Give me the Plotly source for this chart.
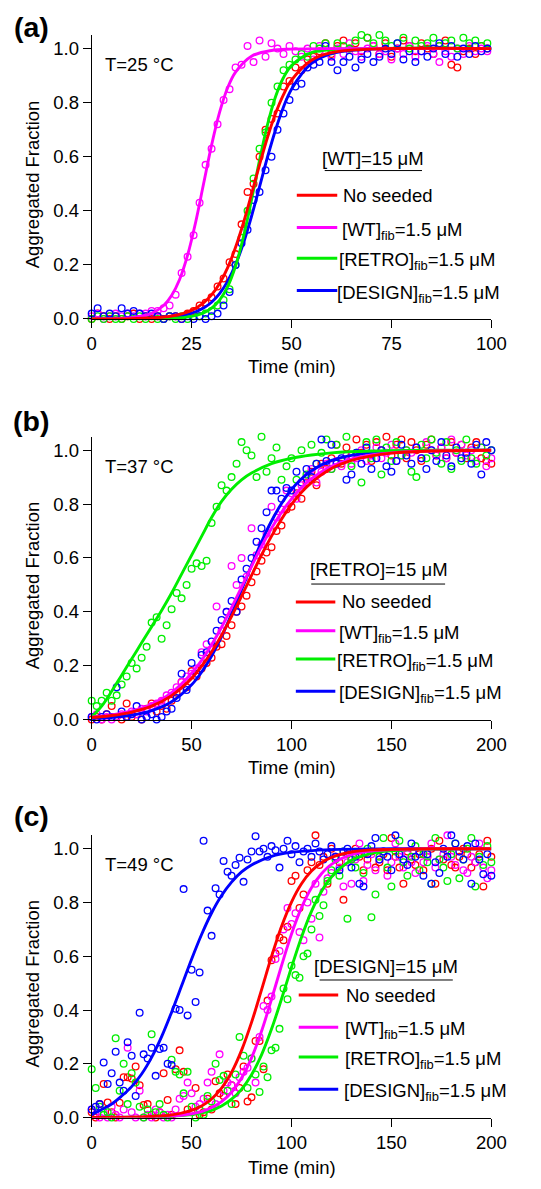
import plotly.graph_objects as go

# ---------------- data ----------------
# Panel (a): T = 25 C, [WT] = 15 uM, time 0-100 min
time_a = [0, 1.5, 3, 4.5, 6, 7.5, 9, 10.5, 12, 13.5, 15, 16.5, 18, 19.5, 21, 22.5, 24, 25.5,
          27, 28.5, 30, 31.5, 33, 34.5, 36, 37.5, 39, 40.5, 42, 43.5, 45, 46.5, 48, 49.5, 51,
          52.5, 54, 55.5, 57, 58.5, 60, 61.5, 63, 64.5, 66, 67.5, 69, 70.5, 72, 73.5, 75, 76.5,
          78, 79.5, 81, 82.5, 84, 85.5, 87, 88.5, 90, 91.5, 93, 94.5, 96, 97.5, 99]
a_red = [0.00, 0.02, 0.01, 0.00, 0.01, 0.00, 0.01, 0.02, 0.00, 0.01, 0.00, 0.01, 0.00, 0.01,
         0.01, 0.00, 0.02, 0.03, 0.05, 0.06, 0.08, 0.12, 0.15, 0.21, 0.24, 0.35, 0.47, 0.50,
         0.60, 0.70, 0.74, 0.76, 0.86, 0.88, 0.93, 0.92, 0.96, 0.97, 0.99, 1.02, 0.98, 1.01,
         1.03, 1.00, 1.02, 0.99, 1.04, 1.01, 0.98, 1.02, 0.97, 1.00, 1.03, 1.01, 0.99, 1.02,
         1.00, 0.98, 1.01, 1.03, 0.94, 0.93, 0.99, 1.00, 0.98, 1.01, 1.00]
a_mag = [0.01, 0.02, 0.00, 0.01, 0.02, 0.01, 0.02, 0.01, 0.02, 0.02, 0.03, 0.03, 0.04, 0.05,
         0.09, 0.17, 0.23, 0.31, 0.43, 0.57, 0.63, 0.72, 0.81, 0.85, 0.93, 0.94, 1.01, 0.95,
         1.03, 0.97, 1.02, 1.00, 0.98, 1.01, 0.99, 0.97, 1.00, 0.96, 1.01, 0.99, 0.97, 1.00,
         0.98, 1.02, 0.99, 0.97, 1.00, 1.01, 0.98, 0.99, 0.96, 1.00, 0.98, 1.01, 0.97, 0.99,
         1.01, 0.98, 0.95, 0.99, 0.97, 1.00, 0.98, 1.01, 0.99, 1.00, 0.99]
a_grn = [0.00, 0.01, 0.00, 0.01, 0.00, 0.00, 0.01, 0.00, 0.01, 0.00, 0.01, 0.00, 0.00, 0.01,
         0.00, 0.01, 0.00, 0.01, 0.01, 0.02, 0.03, 0.05, 0.07, 0.11, 0.20, 0.30, 0.40, 0.52,
         0.63, 0.69, 0.80, 0.86, 0.92, 0.94, 0.96, 0.98, 0.97, 1.01, 1.00, 1.02, 0.99, 1.02,
         1.01, 1.00, 1.03, 1.05, 1.04, 1.02, 1.05, 1.03, 1.01, 1.02, 1.04, 1.00, 1.03, 1.01,
         1.02, 1.04, 1.01, 1.02, 1.03, 1.00, 1.04, 1.02, 1.03, 1.01, 1.02]
a_blu = [0.02, 0.04, 0.01, 0.02, 0.01, 0.04, 0.02, 0.03, 0.02, 0.01, 0.02, 0.01, 0.00, 0.01,
         0.01, 0.00, 0.01, 0.00, 0.01, 0.00, 0.01, 0.02, 0.05, 0.10, 0.20, 0.28, 0.33, 0.44,
         0.47, 0.55, 0.60, 0.70, 0.76, 0.81, 0.86, 0.87, 0.93, 0.94, 0.95, 1.01, 0.95, 0.92,
         0.95, 0.97, 0.93, 0.96, 0.98, 0.95, 0.97, 1.00, 0.98, 1.02, 0.96, 0.99, 0.95, 0.99,
         0.97, 1.00, 1.02, 0.98, 1.01, 0.97, 1.00, 0.98, 1.01, 0.99, 1.00]
# fitted curves, panel (a)
fit_a_red_t = [0, 10, 20, 25, 28, 30, 32, 34, 36, 38, 40, 42, 44, 46, 48, 50, 55, 60, 70, 100]
fit_a_red = [0.0, 0.001, 0.011, 0.032, 0.060, 0.089, 0.131, 0.189, 0.265, 0.357, 0.462, 0.570,
             0.672, 0.760, 0.830, 0.883, 0.957, 0.985, 0.998, 1.0]
fit_a_mag_t = [0, 10, 15, 18, 20, 22, 24, 26, 28, 30, 32, 34, 36, 40, 45, 50, 100]
fit_a_mag = [0.0, 0.005, 0.021, 0.050, 0.087, 0.146, 0.236, 0.357, 0.5, 0.643, 0.764, 0.854,
             0.913, 0.972, 0.993, 0.998, 1.0]
fit_a_grn_t = [0, 20, 25, 28, 30, 32, 34, 36, 38, 40, 42, 44, 46, 48, 50, 55, 60, 100]
fit_a_grn = [0.0, 0.002, 0.0095, 0.0226, 0.040, 0.070, 0.119, 0.196, 0.305, 0.441, 0.587, 0.719,
             0.822, 0.893, 0.937, 0.985, 0.996, 1.0]
fit_a_blu_t = [0, 10, 20, 25, 28, 30, 32, 34, 36, 38, 40, 42, 44, 46, 48, 50, 55, 60, 70, 100]
fit_a_blu = [0.0, 0.001, 0.007, 0.0215, 0.041, 0.062, 0.094, 0.139, 0.201, 0.282, 0.380, 0.489,
             0.599, 0.699, 0.784, 0.850, 0.945, 0.981, 0.998, 1.0]

# Panel (b): T = 37 C, [RETRO] = 15 uM, time 0-200 min
time_b = [0, 2.5, 5, 7.5, 10, 12.5, 15, 17.5, 20, 22.5, 25, 27.5, 30, 32.5, 35, 37.5, 40, 42.5,
          45, 47.5, 50, 52.5, 55, 57.5, 60, 62.5, 65, 67.5, 70, 72.5, 75, 77.5, 80, 82.5, 85,
          87.5, 90, 92.5, 95, 97.5, 100, 102.5, 105, 107.5, 110, 112.5, 115, 117.5, 120, 122.5,
          125, 127.5, 130, 132.5, 135, 137.5, 140, 142.5, 145, 147.5, 150, 152.5, 155, 157.5,
          160, 162.5, 165, 167.5, 170, 172.5, 175, 177.5, 180, 182.5, 185, 187.5, 190, 192.5,
          195, 197.5, 200]
b_red = [0.0, 0.01, 0.0, 0.02, 0.05, 0.01, 0.0, 0.06, 0.01, 0.02,
         0.0, 0.04, 0.06, 0.03, 0.05, 0.04, 0.07, 0.10, 0.14, 0.12,
         0.18, 0.16, 0.19, 0.21, 0.23, 0.27, 0.28, 0.31, 0.35, 0.40,
         0.42, 0.46, 0.51, 0.55, 0.59, 0.62, 0.64, 0.70, 0.72, 0.78,
         0.79, 0.84, 0.82, 0.88, 0.92, 0.87, 0.95, 0.93, 0.97, 1.02,
         0.95, 1.01, 0.98, 1.04, 0.99, 1.02, 0.96, 1.03, 1.0, 1.05,
         0.98, 1.02, 1.04, 0.97, 1.03, 1.0, 0.96, 1.02, 1.04, 0.98,
         1.01, 0.97, 1.03, 0.99, 1.02, 0.97, 1.01, 1.03, 0.97, 0.96, 0.95]
b_mag = [0.01, 0.02, 0.0, 0.01, 0.0, 0.01, 0.02, 0.01, 0.03, 0.02,
         0.04, 0.03, 0.05, 0.06, 0.07, 0.09, 0.10, 0.12, 0.14, 0.16,
         0.17, 0.19, 0.25, 0.28, 0.26, 0.42, 0.33, 0.40, 0.57, 0.50,
         0.60, 0.53, 0.71, 0.61, 0.65, 0.69, 0.79, 0.75, 0.78, 0.85,
         0.84, 0.82, 0.87, 0.90, 0.93, 0.88, 0.92, 0.95, 0.93, 0.96,
         0.94, 0.98, 0.95, 0.97, 1.0, 0.96, 0.98, 1.01, 0.97, 0.99,
         1.02, 0.96, 0.98, 1.0, 0.99, 1.01, 0.97, 1.03, 1.0, 0.98,
         1.01, 0.97, 1.04, 0.99, 1.02, 0.98, 1.0, 0.96, 1.01, 0.94, 0.97]
b_grn = [0.07, 0.05, 0.07, 0.10, 0.07, 0.09, 0.13, 0.16, 0.21, 0.19,
         0.23, 0.27, 0.36, 0.38, 0.30, 0.35, 0.41, 0.47, 0.45, 0.50,
         0.56, 0.58, 0.57, 0.59, 0.73, 0.79, 0.87, 0.85, 0.90, 0.95,
         1.03, 1.00, 0.98, 0.90, 1.05, 0.92, 0.97, 1.01, 0.89, 0.94,
         0.97, 0.89, 1.0, 0.91, 1.02, 0.95, 0.99, 1.04, 0.93, 1.02,
         0.96, 1.05, 0.94, 0.99, 0.88, 1.03, 0.97, 1.04, 0.91, 1.01,
         0.96, 1.03, 0.98, 1.0, 0.92, 0.90, 1.02, 0.97, 1.04, 0.99,
         0.95, 1.03, 0.93, 1.0, 0.96, 1.04, 0.97, 0.95, 1.01, 0.98, 1.0]
b_blu = [0.01, 0.0, 0.01, 0.02, 0.01, 0.12, 0.03, 0.01, 0.02, 0.05,
         0.0, 0.01, 0.02, 0.0, 0.01, 0.03, 0.04, 0.08, 0.17, 0.11,
         0.21, 0.17, 0.24, 0.25, 0.29, 0.33, 0.37, 0.40, 0.44, 0.40,
         0.52, 0.56, 0.60, 0.66, 0.71, 0.77, 0.85, 0.85, 0.82, 0.86,
         0.85, 0.92, 0.88, 0.93, 0.90, 0.95, 1.04, 0.96, 1.02, 0.95,
         0.97, 0.89, 0.91, 0.99, 0.95, 1.01, 0.93, 0.97, 1.0, 0.94,
         0.92, 0.96, 1.02, 0.98, 0.95, 1.01, 0.97, 0.93, 1.0, 0.96,
         1.03, 0.98, 0.94, 1.01, 0.97, 0.99, 0.95, 1.02, 0.91, 1.03, 1.0]
fit_b_t = [0, 10, 20, 30, 40, 50, 55, 60, 65, 70, 75, 80, 85, 90, 95, 100, 105, 110, 120, 130,
           140, 150, 170, 200]
fit_b_red = [0.008, 0.015, 0.028, 0.050, 0.089, 0.153, 0.198, 0.251, 0.313, 0.383, 0.458, 0.535,
             0.611, 0.681, 0.744, 0.799, 0.844, 0.880, 0.932, 0.962, 0.979, 0.989, 0.997, 1.0]
fit_b_mag = [0.009, 0.017, 0.032, 0.057, 0.100, 0.172, 0.220, 0.278, 0.343, 0.416, 0.492, 0.569,
             0.643, 0.710, 0.769, 0.819, 0.861, 0.894, 0.940, 0.967, 0.982, 0.990, 0.997, 1.0]
fit_b_blu = [0.004, 0.008, 0.016, 0.033, 0.066, 0.129, 0.176, 0.236, 0.308, 0.392, 0.482, 0.573,
             0.660, 0.737, 0.802, 0.854, 0.894, 0.924, 0.962, 0.981, 0.991, 0.996, 0.999, 1.0]
fit_b_grn_t = [0, 5, 10, 15, 20, 25, 30, 35, 40, 45, 50, 55, 60, 65, 70, 75, 80, 90, 100, 110,
               120, 140, 170, 200]
fit_b_grn = [0.01, 0.05, 0.105, 0.165, 0.225, 0.285, 0.345, 0.405, 0.47, 0.54, 0.61, 0.68, 0.75,
             0.81, 0.855, 0.89, 0.915, 0.95, 0.97, 0.982, 0.99, 0.997, 1.0, 1.0]

# Panel (c): T = 49 C, [DESIGN] = 15 uM, time 0-200 min
time_c = [0, 2, 4, 6, 8, 10, 12, 14, 16, 18, 20, 22, 24, 26, 28, 30, 32, 34, 36, 38, 40, 42, 44,
          46, 48, 50, 52, 54, 56, 58, 60, 62, 64, 66, 68, 70, 72, 74, 76, 78, 80, 82, 84, 86, 88,
          90, 92, 94, 96, 98, 100, 102, 104, 106, 108, 110, 112, 114, 116, 118, 120, 122, 124,
          126, 128, 130, 132, 134, 136, 138, 140, 142, 144, 146, 148, 150, 152, 154, 156, 158,
          160, 162, 164, 166, 168, 170, 172, 174, 176, 178, 180, 182, 184, 186, 188, 190, 192,
          194, 196, 198, 200]
c_red = [0.02, 0.0, 0.05, 0.125, 0.056, 0.02, 0.0, 0.055, 0.15, 0.15,
         0.145, 0.19, 0.12, 0.047, 0.05, 0.01, 0.0, 0.02, 0.165, 0.065,
         0.01, 0.18, 0.25, 0.17, 0.03, 0.02, 0.11, 0.01, 0.02, 0.07,
         0.03, 0.135, 0.09, 0.08, 0.16, 0.12, 0.05, 0.11, 0.19, 0.06,
         0.075, 0.285, 0.285, 0.18, 0.435, 0.585, 0.61, 0.67, 0.66, 0.71,
         0.88, 0.90, 0.78, 0.83, 0.92, 0.95, 1.05, 0.94, 0.97, 0.87,
         1.0, 0.97, 0.95, 0.81, 0.98, 0.96, 1.0, 0.97, 0.92, 0.96,
         0.99, 0.93, 0.95, 0.98, 0.92, 1.04, 0.97, 0.93, 0.87, 0.99,
         0.96, 0.94, 0.98, 0.92, 0.97, 1.0, 0.87, 1.03, 0.96, 0.99,
         0.94, 0.93, 0.97, 1.0, 0.98, 0.93, 0.95, 0.98, 0.86, 1.03, 0.97]
c_mag = [0.03, 0.01, 0.0, 0.02, 0.0, 0.04, 0.01, 0.0, 0.03, 0.26,
         0.02, 0.0, 0.10, 0.0, 0.01, 0.0, 0.03, 0.02, 0.0, 0.01,
         0.0, 0.03, 0.07, 0.08, 0.13, 0.09, 0.04, 0.05, 0.07, 0.13,
         0.17, 0.05, 0.235, 0.10, 0.13, 0.12, 0.09, 0.15, 0.17, 0.185,
         0.22, 0.13, 0.30, 0.415, 0.40, 0.45, 0.59, 0.62, 0.70, 0.78,
         0.72, 0.76, 0.69, 0.66, 0.80, 0.74, 0.87, 0.67, 0.84, 0.89,
         0.91, 0.97, 0.93, 0.86, 0.95, 0.87, 0.96, 1.02, 0.88, 0.94,
         0.98, 0.92, 0.96, 0.99, 0.90, 0.95, 1.02, 0.97, 0.93, 0.98,
         0.95, 0.91, 0.99, 0.95, 0.97, 1.02, 0.93, 0.96, 0.98, 1.05,
         0.97, 0.94, 0.99, 0.92, 0.91, 0.97, 0.95, 1.02, 0.93, 0.89, 0.92]
c_grn = [0.18, 0.11, 0.04, 0.01, 0.02, 0.0, 0.295, 0.10, 0.20, 0.05,
         0.165, 0.13, 0.04, 0.0, 0.03, 0.31, 0.02, 0.05, 0.01, 0.0,
         0.215, 0.17, 0.16, 0.09, 0.17, 0.04, 0.0, 0.03, 0.01, 0.08,
         0.06, 0.20, 0.14, 0.155, 0.10, 0.05, 0.16, 0.30, 0.23, 0.11,
         0.22, 0.16, 0.095, 0.19, 0.15, 0.25, 0.26, 0.33, 0.48, 0.44,
         0.565, 0.53, 0.52, 0.60, 0.61, 0.70, 0.81, 0.75, 0.79, 0.88,
         0.92, 0.96, 0.90, 0.99, 0.74, 0.96, 0.93, 0.98, 0.91, 1.0,
         0.745, 0.83, 0.97, 1.04, 0.93, 0.86, 0.99, 1.03, 0.95, 0.90,
         0.97, 1.01, 0.92, 0.98, 0.95, 0.87, 1.04, 0.96, 0.93, 0.88,
         0.98, 1.02, 0.89, 0.96, 1.0, 1.04, 0.86, 0.97, 0.94, 1.01, 0.95]
c_blu = [0.03, 0.04, 0.05, 0.205, 0.125, 0.165, 0.245, 0.13, 0.10, 0.28,
         0.23, 0.08, 0.39, 0.235, 0.22, 0.26, 0.155, 0.255, 0.26, 0.20,
         0.195, 0.405, 0.40, 0.85, 0.38, 0.55, 0.43, 0.54, 1.03, 0.77,
         0.676, 0.853, 0.83, 0.955, 0.915, 0.90, 0.94, 0.967, 0.877, 0.96,
         0.99, 1.047, 0.99, 1.0, 0.97, 1.01, 0.995, 0.93, 1.0, 1.03,
         0.98, 1.01, 0.95, 0.99, 1.0, 0.97, 1.02, 0.99, 0.96, 0.98,
         1.01, 0.97, 0.92, 0.99, 1.0, 0.93, 0.97, 0.87, 0.86, 0.98,
         1.01, 1.04, 0.96, 0.99, 0.97, 0.92, 1.05, 0.98, 0.96, 0.94,
         1.02, 0.97, 0.99, 0.90, 0.98, 0.87, 0.95, 0.91, 1.0, 0.97,
         1.05, 1.02, 0.99, 0.96, 1.01, 0.87, 1.02, 0.96, 0.905, 0.98, 0.90]
fit_c_t = [0, 20, 30, 40, 50, 55, 60, 65, 70, 75, 80, 85, 90, 95, 100, 105, 110, 115, 120, 130,
           140, 150, 170, 200]
fit_c_red = [0.0, 0.001, 0.004, 0.010, 0.027, 0.043, 0.069, 0.109, 0.168, 0.250, 0.354, 0.475,
             0.599, 0.711, 0.802, 0.870, 0.917, 0.948, 0.968, 0.988, 0.996, 0.998, 1.0, 1.0]
fit_c_mag = [0.0, 0.001, 0.002, 0.005, 0.014, 0.022, 0.037, 0.059, 0.094, 0.147, 0.222, 0.321,
             0.440, 0.565, 0.683, 0.781, 0.855, 0.907, 0.942, 0.978, 0.992, 0.997, 1.0, 1.0]
fit_c_grn = [0.0, 0.001, 0.002, 0.004, 0.011, 0.017, 0.027, 0.043, 0.068, 0.105, 0.159, 0.233,
             0.329, 0.441, 0.559, 0.671, 0.767, 0.841, 0.895, 0.957, 0.983, 0.993, 0.999, 1.0]
fit_c_blu_t = [0, 5, 10, 15, 20, 25, 30, 35, 40, 45, 50, 55, 60, 65, 70, 75, 80, 90, 100, 120,
               150, 200]
fit_c_blu = [0.01, 0.03, 0.05, 0.08, 0.115, 0.162, 0.224, 0.301, 0.392, 0.490, 0.589, 0.681,
             0.761, 0.826, 0.876, 0.914, 0.940, 0.972, 0.987, 0.997, 1.0, 1.0]

x_ticks_a = [0, 25, 50, 75, 100]
x_ticks_bc = [0, 50, 100, 150, 200]
y_ticks = [0.0, 0.2, 0.4, 0.6, 0.8, 1.0]
y_tick_text = ["0.0", "0.2", "0.4", "0.6", "0.8", "1.0"]

legend_labels = ["No seeded", "[WT]<sub>fib</sub>=1.5 μM", "[RETRO]<sub>fib</sub>=1.5 μM",
                 "[DESIGN]<sub>fib</sub>=1.5 μM"]
panel_letters = ["(a)", "(b)", "(c)"]
temps = ["T=25 °C", "T=37 °C", "T=49 °C"]
legend_titles = ["[WT]=15 μM", "[RETRO]=15 μM", "[DESIGN]=15 μM"]

# ---------------- styling / layout ----------------
W, H = 541, 1189
FONT = "Liberation Sans, Arial, Helvetica, sans-serif"
FS = 18.5
RED, MAG, GRN, BLU = "#FF0000", "#FF00FF", "#00EE00", "#0000FF"
LEG_COLORS = [RED, MAG, GRN, BLU]


def fx(p):
    return p / W


def fy(p):
    return 1 - p / H


X0, X1 = 90, 505  # pixel extent of the x axes

panels = [
    dict(t=time_a,
         pts=[(RED, a_red), (MAG, a_mag), (GRN, a_grn), (BLU, a_blu)],
         fits=[(BLU, fit_a_blu_t, fit_a_blu), (GRN, fit_a_grn_t, fit_a_grn),
               (MAG, fit_a_mag_t, fit_a_mag), (RED, fit_a_red_t, fit_a_red)],
         xr=[0, 100], xt=x_ticks_a, p0=321.7, p1=49.0,
         letter_y=27, temp_y=65, xtitle_y=370,
         leg=dict(tx=382.5, ty=160, ul=(332, 433, 172), ys=[197, 229.5, 260.5, 293],
                  lx=(303, 345), txt_x=[349, 348, 345, 343])),
    dict(t=time_b,
         pts=[(RED, b_red), (MAG, b_mag), (GRN, b_grn), (BLU, b_blu)],
         fits=[(BLU, fit_b_t, fit_b_blu), (GRN, fit_b_grn_t, fit_b_grn),
               (MAG, fit_b_t, fit_b_mag), (RED, fit_b_t, fit_b_red)],
         xr=[0, 200], xt=x_ticks_bc, p0=725.7, p1=454.0,
         letter_y=425, temp_y=470, xtitle_y=774,
         leg=dict(tx=388, ty=574, ul=(318, 457, 589), ys=[607, 636, 664.5, 697],
                  lx=(302, 343), txt_x=[348, 345, 343, 345])),
    dict(t=time_c,
         pts=[(RED, c_red), (MAG, c_mag), (GRN, c_grn), (BLU, c_blu)],
         fits=[(BLU, fit_c_blu_t, fit_c_blu), (GRN, fit_c_t, fit_c_grn),
               (MAG, fit_c_t, fit_c_mag), (RED, fit_c_t, fit_c_red)],
         xr=[0, 200], xt=x_ticks_bc, p0=1127.0, p1=856.0,
         letter_y=823, temp_y=871.5, xtitle_y=1177,
         leg=dict(tx=395.5, ty=975, ul=(326.7, 465, 988.3), ys=[1003.5, 1036, 1066, 1098.5],
                  lx=(305, 346), txt_x=[351.5, 350.5, 350.5, 350])),
]

fig = go.Figure()
layout = dict(width=W, height=H, autosize=False, margin=dict(l=0, r=0, t=0, b=0, pad=0),
              paper_bgcolor="white", plot_bgcolor="white", showlegend=False,
              font=dict(family=FONT, size=FS, color="black"))
annotations = []
shapes = []

for i, P in enumerate(panels):
    n = "" if i == 0 else str(i + 1)
    xa, ya = "x" + n, "y" + n
    top = P["p0"] - 1.05 * (P["p0"] - P["p1"])
    layout["xaxis" + n] = dict(
        domain=[fx(X0), fx(X1)], range=P["xr"], tickvals=P["xt"], anchor=ya,
        ticks="outside", ticklen=8, tickwidth=1, tickcolor="black",
        showline=True, linecolor="black", linewidth=1, showgrid=False, zeroline=False,
        tickfont=dict(family=FONT, size=FS, color="black"))
    layout["yaxis" + n] = dict(
        domain=[fy(P["p0"]), fy(top)], range=[0, 1.05], tickvals=y_ticks, ticktext=y_tick_text,
        anchor=xa, ticks="outside", ticklen=8, tickwidth=1, tickcolor="black",
        showline=True, linecolor="black", linewidth=1, showgrid=False, zeroline=False,
        tickfont=dict(family=FONT, size=FS, color="black"))

    for col, vals in P["pts"]:
        fig.add_trace(go.Scatter(
            x=P["t"], y=vals, mode="markers", xaxis=xa, yaxis=ya, cliponaxis=False,
            marker=dict(symbol="circle-open", size=6.7, color=col,
                        line=dict(width=1.3, color=col)),
            hoverinfo="skip"))
    for col, tx, ty in P["fits"]:
        fig.add_trace(go.Scatter(
            x=tx, y=ty, mode="lines", xaxis=xa, yaxis=ya,
            line=dict(color=col, width=2.9, shape="spline", smoothing=1.0), hoverinfo="skip"))

    # panel letter, temperature, axis titles
    annotations.append(dict(text="<b>" + panel_letters[i] + "</b>", x=fx(27.5), y=fy(P["letter_y"]),
                            xref="paper", yref="paper", showarrow=False, xanchor="center",
                            yanchor="middle", font=dict(family=FONT, size=28.5, color="black")))
    annotations.append(dict(text=temps[i], x=fx(102), y=fy(P["temp_y"]), xref="paper",
                            yref="paper", showarrow=False, xanchor="left", yanchor="middle",
                            font=dict(family=FONT, size=FS, color="black")))
    annotations.append(dict(text="Time (min)", x=fx((X0 + X1) / 2), y=fy(P["xtitle_y"]),
                            xref="paper", yref="paper", showarrow=False, xanchor="center",
                            yanchor="middle", font=dict(family=FONT, size=FS, color="black")))
    annotations.append(dict(text="Aggregated Fraction", x=fx(28.5),
                            y=fy(P["p0"] - 0.5 * (P["p0"] - P["p1"])), xref="paper",
                            yref="paper", showarrow=False, xanchor="center", yanchor="middle",
                            textangle=-90, font=dict(family=FONT, size=FS, color="black")))

    # legend block
    L = P["leg"]
    annotations.append(dict(text=legend_titles[i], x=fx(L["tx"]), y=fy(L["ty"]), xref="paper",
                            yref="paper", showarrow=False, xanchor="center", yanchor="middle",
                            font=dict(family=FONT, size=FS, color="black")))
    shapes.append(dict(type="line", xref="paper", yref="paper", x0=fx(L["ul"][0]),
                       x1=fx(L["ul"][1]), y0=fy(L["ul"][2]), y1=fy(L["ul"][2]),
                       line=dict(color="black", width=1)))
    for k, lab in enumerate(legend_labels):
        yk = L["ys"][k]
        shapes.append(dict(type="line", xref="paper", yref="paper", x0=fx(L["lx"][0]),
                           x1=fx(L["lx"][1]), y0=fy(yk), y1=fy(yk),
                           line=dict(color=LEG_COLORS[k], width=3)))
        annotations.append(dict(text=lab, x=fx(L["txt_x"][k]), y=fy(yk), xref="paper",
                                yref="paper", showarrow=False, xanchor="left", yanchor="middle",
                                yshift=(0 if k == 0 else -3),
                                font=dict(family=FONT, size=FS, color="black")))

layout["annotations"] = annotations
layout["shapes"] = shapes
fig.update_layout(**layout)
fig.write_html("out.html", config={"responsive": False})
